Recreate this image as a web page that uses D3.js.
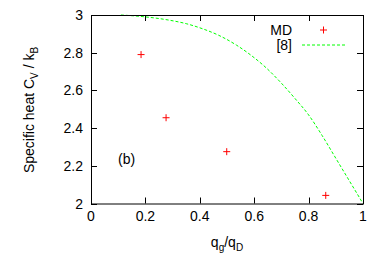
<!DOCTYPE html>
<html>
<head>
<meta charset="utf-8">
<script src="https://cdn.jsdelivr.net/npm/d3@7"></script>
<style>
body { margin: 0; background: #fff; }
text { font-family: "Liberation Sans", Arial, sans-serif; }
</style>
</head>
<body>
<div id="chart-area"></div>
<script>
// MD points
var mdQ = [0.184, 0.276, 0.499, 0.863];
var mdCv = [2.79, 2.455, 2.275, 2.043];

// curve from ref [8]
var refQ = [0.11, 0.2, 0.29, 0.35, 0.41, 0.47, 0.535, 0.585, 0.64, 0.695, 0.75, 0.80, 0.85, 0.90, 0.95, 1.0];
var refCv = [3.0, 2.99, 2.972, 2.954, 2.927, 2.892, 2.84, 2.79, 2.725, 2.646, 2.557, 2.47, 2.36, 2.24, 2.12, 2.0];

var xTicks = [0, 0.2, 0.4, 0.6, 0.8, 1];
var yTicks = [2, 2.2, 2.4, 2.6, 2.8, 3];

var margin = { top: 15, bottom: 63.5, left: 91, right: 11 };
var W = 374, H = 267;
var width = W - margin.left - margin.right;
var height = H - margin.top - margin.bottom;

var svg = d3.select("#chart-area").append("svg")
    .attr("width", W)
    .attr("height", H);

var g = svg.append("g")
    .attr("transform", "translate(" + margin.left + " " + margin.top + ")");

var x = d3.scaleLinear().domain([0, 1]).range([0, width]);
var y = d3.scaleLinear().domain([2, 3]).range([height, 0]);

var fs = "14px";

// ticks on all four sides, pointing in
var tl = 6;
g.selectAll(".xt").data(xTicks).enter().append("line")
    .attr("x1", function(d) { return Math.round(x(d)) + 0.5; })
    .attr("x2", function(d) { return Math.round(x(d)) + 0.5; })
    .attr("y1", height).attr("y2", height - tl)
    .attr("stroke", "#000");
g.selectAll(".xt2").data(xTicks).enter().append("line")
    .attr("x1", function(d) { return Math.round(x(d)) + 0.5; })
    .attr("x2", function(d) { return Math.round(x(d)) + 0.5; })
    .attr("y1", 0).attr("y2", tl)
    .attr("stroke", "#000");
g.selectAll(".yt").data(yTicks).enter().append("line")
    .attr("y1", function(d) { return Math.round(y(d)) + 0.5; })
    .attr("y2", function(d) { return Math.round(y(d)) + 0.5; })
    .attr("x1", 0).attr("x2", tl)
    .attr("stroke", "#000");
g.selectAll(".yt2").data(yTicks).enter().append("line")
    .attr("y1", function(d) { return Math.round(y(d)) + 0.5; })
    .attr("y2", function(d) { return Math.round(y(d)) + 0.5; })
    .attr("x1", width).attr("x2", width - tl)
    .attr("stroke", "#000");

// tick labels
g.selectAll(".xl").data(xTicks).enter().append("text")
    .attr("x", function(d) { return x(d); })
    .attr("y", height + 17)
    .attr("text-anchor", "middle")
    .attr("font-size", fs)
    .text(function(d) { return d3.format("")(d); });
g.selectAll(".yl").data(yTicks).enter().append("text")
    .attr("x", -8)
    .attr("y", function(d) { return y(d) + 5; })
    .attr("text-anchor", "end")
    .attr("font-size", fs)
    .text(function(d) { return d3.format("")(d); });

// ref [8] curve
var line = d3.line()
    .x(function(d, i) { return x(refQ[i]); })
    .y(function(d, i) { return y(refCv[i]); })
    .curve(d3.curveMonotoneX);
g.append("path")
    .datum(refQ)
    .attr("d", line)
    .attr("fill", "none")
    .attr("stroke", "#00ff00")
    .attr("stroke-width", 1)
    .attr("stroke-dasharray", "3,2");

// MD points as plus signs
var ps = 3.5;
function plus(sel, cx, cy) {
    sel.append("path")
        .attr("d", "M" + (cx - ps) + "," + cy + "H" + (cx + ps) + "M" + cx + "," + (cy - ps) + "V" + (cy + ps))
        .attr("stroke", "#ff0000")
        .attr("stroke-width", 1)
        .attr("fill", "none");
}
mdQ.forEach(function(q, i) {
    plus(g, x(q), y(mdCv[i]));
});

// frame
g.append("rect")
    .attr("x", 0.5).attr("y", 0.5)
    .attr("width", width).attr("height", height)
    .attr("fill", "none")
    .attr("stroke", "#000");

// legend
svg.append("text")
    .attr("x", 292).attr("y", 35)
    .attr("text-anchor", "end")
    .attr("font-size", fs)
    .text("MD");
plus(svg, 323.5, 30);
svg.append("text")
    .attr("x", 292).attr("y", 50)
    .attr("text-anchor", "end")
    .attr("font-size", fs)
    .text("[8]");
svg.append("line")
    .attr("x1", 302).attr("x2", 345)
    .attr("y1", 45).attr("y2", 45)
    .attr("stroke", "#00ff00")
    .attr("stroke-dasharray", "3,2");

// (b) label
svg.append("text")
    .attr("x", 118).attr("y", 164)
    .attr("font-size", fs)
    .text("(b)");

// axis titles
var xt = svg.append("text")
    .attr("x", 227).attr("y", 247)
    .attr("text-anchor", "middle")
    .attr("font-size", fs);
xt.append("tspan").text("q");
xt.append("tspan").attr("font-size", "10px").attr("dy", 4).text("g");
xt.append("tspan").attr("dy", -4).text("/q");
xt.append("tspan").attr("font-size", "10px").attr("dy", 4).text("D");

var yt = svg.append("text")
    .attr("transform", "translate(34 110) rotate(-90)")
    .attr("text-anchor", "middle")
    .attr("font-size", fs);
yt.append("tspan").text("Specific heat C");
yt.append("tspan").attr("font-size", "10px").attr("dy", 4).text("V");
yt.append("tspan").attr("dy", -4).text(" / k");
yt.append("tspan").attr("font-size", "10px").attr("dy", 4).text("B");
</script>
</body>
</html>
